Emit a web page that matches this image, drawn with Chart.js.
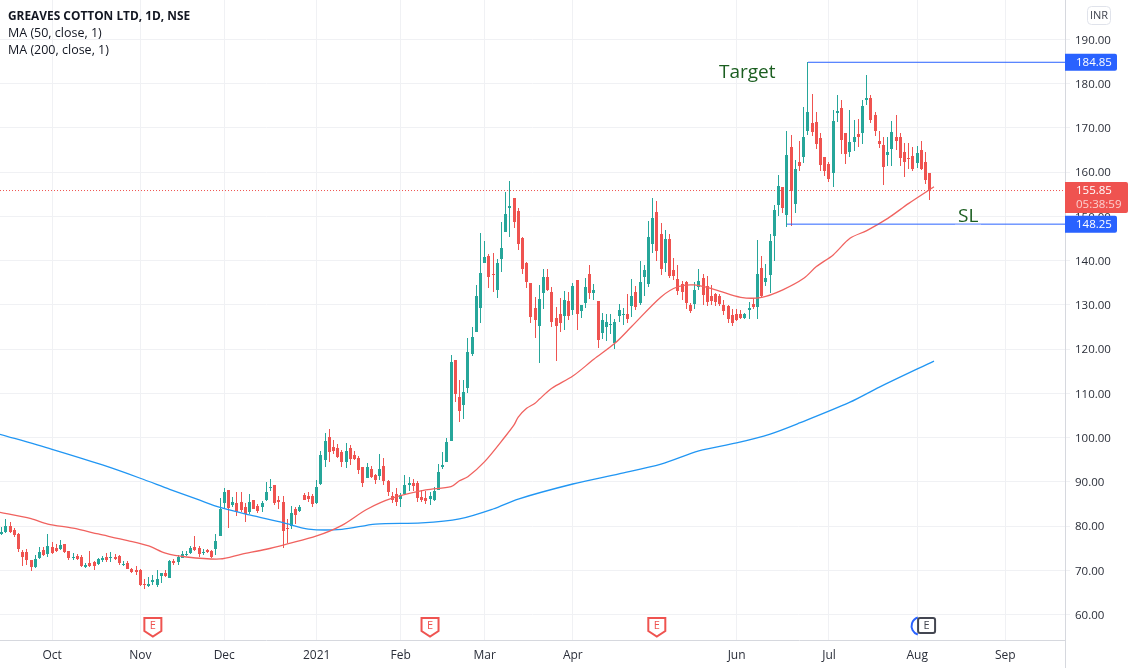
<!DOCTYPE html>
<html>
<head>
<meta charset="utf-8">
<title>GREAVES COTTON LTD</title>
<script src="https://cdn.jsdelivr.net/npm/chart.js@4"></script>
<style>
  html, body { margin: 0; padding: 0; background: #fff; }
  canvas { display: block; }
</style>
</head>
<body>
<canvas id="myChart" width="1133" height="668"></canvas>
<script>
// Daily candles, one entry per trading day
const opens = [
  78.2,78.65,80.0,79.1,78.2,74.1,74.1,72.3,70.7,72.8,
  74.6,73.7,75.3,75.0,74.8,75.9,74.35,72.8,73.2,73.0,
  70.7,71.65,71.85,71.4,72.3,73.0,72.8,73.0,73.2,71.2,
  71.65,70.3,70.05,70.05,66.9,66.44,67.35,66.67,68.7,69.4,
  68.25,72.1,71.85,72.8,73.45,73.9,75.3,75.0,73.9,74.6,
  74.35,74.8,77.75,85.2,88.15,84.75,85.2,85.45,84.3,83.15,
  85.9,84.5,84.3,85.9,88.6,89.3,85.9,85.45,79.55,80.0,
  83.85,83.4,87.0,86.8,86.8,85.2,89.5,94.94,100.14,97.88,
  97.65,96.75,94.5,97.65,96.07,95.4,93.35,90.9,92.9,91.55,
  91.3,93.6,90.2,86.8,87.25,86.1,87.25,89.3,89.75,89.75,
  86.55,86.35,86.1,85.9,88.15,93.35,94.5,99.23,117.55,109.2,
  107.35,111.2,118.9,123.9,129.3,139.5,141.05,137.0,133.4,140.4,
  146.5,151.9,154.17,151.25,145.15,139.5,134.95,129.3,125.25,132.7,
  136.3,132.9,127.05,127.95,127.5,130.9,128.85,135.65,128.6,130.45,
  137.0,132.7,130.9,123.65,125.0,125.45,121.4,127.5,127.7,127.95,
  129.75,132.9,130.45,136.3,134.75,143.75,151.0,146.05,139.5,144.9,
  137.9,135.85,134.75,135.2,130.0,130.2,134.05,136.1,134.3,132.0,
  132.45,132.0,130.0,129.75,127.7,127.95,127.95,127.05,128.85,130.2,
  129.55,138.35,135.2,136.75,145.6,152.6,156.65,150.3,165.7,152.8,
  162.3,163.45,169.3,171.15,171.35,167.75,163.45,161.85,159.8,173.4,
  174.5,168.85,164.55,166.85,168.65,168.85,176.35,176.8,172.95,167.05,
  166.15,163.9,165.25,167.95,167.95,164.55,163.2,163.65,162.1,165.0,162.3,159.8
];
const highs = [
  79.7,81.6,80.9,79.5,78.35,74.6,74.8,72.4,73.45,75.3,
  75.3,78.2,76.4,75.9,76.8,76.0,74.4,73.9,73.7,73.45,
  71.65,74.35,72.1,72.8,73.2,73.9,74.1,73.7,73.45,72.1,
  72.1,70.5,70.95,70.3,68.0,68.5,68.9,70.05,69.4,70.05,
  72.3,72.55,73.45,74.35,74.35,75.5,77.75,75.5,74.8,74.8,
  74.6,78.2,86.3,88.6,88.15,86.55,87.7,87.7,85.2,87.25,
  85.9,85.0,85.65,89.95,90.65,89.3,86.8,86.8,81.6,84.5,
  84.3,84.75,87.45,87.7,87.25,90.4,96.97,101.04,101.95,99.46,
  98.55,97.2,98.8,98.3,96.97,95.85,93.4,94.25,93.6,91.8,
  96.3,95.4,90.4,87.7,88.6,87.5,91.55,91.1,90.65,90.2,
  88.15,87.9,87.7,88.85,94.05,96.75,99.9,118.7,117.6,113.0,
  113.0,122.5,125.0,134.5,146.25,144.45,141.5,141.75,140.4,148.75,
  155.5,158.0,154.2,151.9,145.35,139.7,135.0,131.8,134.5,138.1,
  138.1,134.05,129.55,131.55,133.15,132.9,134.95,135.65,130.0,136.1,
  139.0,134.75,130.95,128.15,127.95,127.95,126.8,130.2,129.3,132.45,
  135.85,134.3,139.95,139.0,149.0,154.17,153.5,148.5,146.95,146.05,
  140.6,139.0,135.4,135.45,130.45,135.2,138.1,137.0,136.55,134.5,
  132.7,132.45,131.1,130.0,129.1,129.1,128.85,128.15,130.65,131.55,
  144.7,141.05,139.25,146.05,152.6,159.35,156.7,169.3,168.4,162.75,
  167.05,174.75,184.85,177.7,173.6,168.85,163.45,162.3,174.05,177.45,
  176.35,168.9,174.05,171.8,172.05,176.35,182.0,177.45,173.6,169.3,
  167.95,167.95,171.6,172.95,168.85,166.6,166.6,165.7,165.9,167.05,164.55,159.85
];
const lows = [
  78.0,78.35,78.35,77.6,74.2,71.0,71.2,69.8,70.5,72.55,
  73.2,73.0,73.7,74.1,74.6,73.9,72.3,72.3,72.3,70.7,
  70.5,70.7,70.05,71.2,71.85,71.85,71.85,72.3,71.2,70.95,
  70.2,69.4,68.9,66.44,65.8,66.2,66.67,66.2,67.1,68.5,
  68.25,71.2,71.2,72.75,73.2,73.7,74.35,73.0,73.45,73.9,
  72.8,73.45,77.7,83.85,79.55,84.3,82.25,83.15,80.9,82.7,
  83.8,82.95,83.15,85.65,87.9,84.75,83.85,75.0,76.2,79.3,
  80.45,83.15,85.85,85.45,84.3,85.0,89.3,93.35,94.5,96.3,
  95.4,93.35,93.1,93.8,94.94,91.8,88.85,90.85,90.9,89.5,
  90.4,89.3,86.8,85.2,84.55,84.3,87.0,87.9,87.9,85.45,
  85.45,85.0,84.75,85.65,88.1,92.9,94.45,99.2,108.05,103.5,
  104.2,110.1,118.45,123.85,125.9,139.45,133.8,132.9,131.55,137.45,
  146.45,145.35,147.4,142.4,137.0,133.8,125.9,122.5,116.85,129.05,
  133.15,125.0,117.3,123.9,124.35,126.6,127.7,124.35,127.05,129.3,
  131.35,131.1,120.25,122.3,121.85,123.4,120.05,126.15,125.45,125.9,
  127.25,128.85,130.0,132.0,134.05,141.75,139.9,136.75,137.45,136.1,
  135.65,132.25,131.1,129.1,128.15,129.1,133.4,130.0,129.75,130.0,
  129.75,129.75,127.7,125.9,125.25,126.35,126.8,126.8,126.8,129.1,
  126.8,131.8,134.3,132.7,139.9,150.1,150.8,147.6,147.85,150.8,
  160.3,162.1,168.4,168.2,165.25,160.3,159.15,157.8,156.65,171.35,
  164.1,161.85,163.45,164.8,165.7,166.4,175.2,171.15,168.2,165.45,
  157.1,161.4,161.4,165.0,161.4,158.9,160.75,160.3,160.95,160.5,157.35,153.7
];
const closes = [
  78.65,80.0,78.65,78.0,74.8,73.0,72.3,70.7,72.55,74.1,
  73.45,75.5,73.9,74.35,75.7,74.1,72.8,73.0,72.55,70.95,
  71.2,70.95,70.95,72.55,72.8,72.3,73.0,72.55,71.65,71.4,
  70.3,69.6,69.6,66.67,66.67,66.9,67.8,68.0,69.4,68.7,
  72.1,71.65,73.0,73.7,73.7,75.0,74.6,73.7,74.1,74.1,
  73.0,76.6,83.85,87.7,84.05,85.45,83.15,83.6,82.7,85.45,
  83.85,83.4,85.2,87.7,88.8,85.2,85.45,78.9,79.3,83.0,
  82.5,84.3,85.9,86.1,85.0,88.8,96.07,99.23,96.75,96.97,
  95.6,94.5,96.97,95.15,95.15,92.7,89.75,93.35,91.1,90.4,
  92.9,90.2,87.7,85.9,85.45,87.0,89.3,89.75,89.05,86.35,
  85.9,85.65,86.8,87.9,92.2,93.8,99.0,117.1,109.85,106.0,
  110.3,119.35,122.75,132.0,137.2,140.85,136.3,136.75,139.5,142.85,
  150.55,152.35,148.75,143.75,138.1,135.2,127.25,126.6,131.35,136.3,
  133.4,126.15,125.25,125.9,131.1,127.5,134.3,127.95,129.98,134.05,
  132.7,133.4,122.05,126.6,126.15,125.7,126.15,128.85,127.95,126.8,
  132.0,129.55,135.2,137.9,145.35,149.65,142.2,138.1,144.9,136.55,
  136.55,133.15,132.9,130.45,128.6,133.4,135.4,132.25,130.65,130.9,
  130.65,130.2,128.6,126.8,125.9,126.6,127.05,127.95,129.3,129.55,
  137.0,132.0,136.1,144.45,151.45,156.9,151.9,163.9,155.75,160.75,
  161.4,167.95,173.6,169.1,166.4,161.65,160.3,158.45,171.6,173.85,
  167.3,164.1,166.85,167.95,167.95,175.0,176.8,171.8,169.3,166.4,
  161.2,164.55,169.1,167.05,163.2,162.3,162.95,160.75,164.35,160.75,158.25,155.85
];

const ma50Bars = [-1,7,11,17,23,30,35,39,44,52,57,63,68,75,81,87,93,101,107,109,111,115,120,122,123,125,127,128,131,136,141,146,150,157,161,165,170,176,181,186,191,194,198,202,206,211,216,222];
const ma50Values = [83.2,81.66,80.45,79.5,78.2,76.7,75.5,73.85,73.0,72.55,73.6,74.75,75.95,77.75,80.15,83.8,86.3,88.15,88.9,90.25,91.15,94.55,100.35,102.85,104.6,106.6,107.75,108.65,111.15,113.9,117.7,121.3,125.1,131.8,134.1,134.5,133.4,131.7,131.7,133.4,136.0,138.65,141.3,145.05,146.8,149.55,152.95,156.7];
const ma200Bars = [-1,12,24,33,40,47,52,59,67,73,81,89,100,109,117,123,136,147,157,166,175,183,190,202,209,222];
const ma200Values = [100.9,97.35,93.8,90.8,88.3,85.9,84.2,82.5,80.75,79.3,79.25,80.45,80.7,81.6,83.85,86.1,89.5,91.8,94.0,97.0,98.8,100.8,103.3,108.0,111.4,117.3];

// Axis ticks
const monthLabels = ["Oct","Nov","Dec","2021","Feb","Mar","Apr","Jun","Jul","Aug","Sep"];
const monthBars = [12,33,53,75,95,115,136,175,197,218,239];
const priceTicks = [60,70,80,90,100,110,120,130,140,150,160,170,180,190];

// Drawn levels and earnings flags
const lastPrice = 155.85;
const countdown = "05:38:59";
const targetPrice = 184.85;
const targetBar = 192;
const stopPrice = 148.25;
const stopBar = 187;
const earningsBars = [36,102,156];
const nextEarningsBar = 220;

const upColor = "#26a69a";
const downColor = "#ef5350";
const lineBlue = "#2962ff";
const textFont = '"Open Sans", "Noto Sans", sans-serif';

// Fixed scale ends, so that the plot sits where the reference has it
const barMin = -0.4;
const barMax = 253.2;

const candleColors = opens.map((o, i) => (closes[i] >= o ? upColor : downColor));

function toPoints(xs, ys) {
  return xs.map((x, i) => ({ x: x, y: ys[i] }));
}

// Keeps the 1px wicks and 3px bodies on whole pixels
const snapBars = {
  id: "snapBars",
  afterDatasetsUpdate(chart) {
    chart.data.datasets.forEach((ds, d) => {
      if (ds.type !== "bar") return;
      chart.getDatasetMeta(d).data.forEach((bar) => {
        bar.x = Math.floor(bar.x) + 0.5;
        bar.y = Math.round(bar.y);
        bar.base = Math.round(bar.base);
      });
    });
  },
};

function priceTag(ctx, y, width, height, color) {
  ctx.fillStyle = color;
  ctx.beginPath();
  ctx.roundRect(1065, y, width, height, [0, 2, 2, 0]);
  ctx.fill();
}

function drawFlag(ctx, x, color, pointed) {
  ctx.strokeStyle = color;
  ctx.lineWidth = 2;
  ctx.fillStyle = "#fff";
  ctx.beginPath();
  if (pointed) {
    ctx.moveTo(x - 8.5, 618);
    ctx.lineTo(x + 8.5, 618);
    ctx.lineTo(x + 8.5, 631);
    ctx.lineTo(x, 636.5);
    ctx.lineTo(x - 8.5, 631);
    ctx.closePath();
  } else {
    ctx.roundRect(x - 8.5, 618, 17, 15, 2);
  }
  ctx.fill();
  ctx.stroke();
  ctx.fillStyle = color;
  ctx.font = "11px " + textFont;
  ctx.textAlign = "center";
  ctx.textBaseline = "middle";
  ctx.fillText("E", x, 626);
}

// Title, tags, flags and the other TradingView furniture
const overlay = {
  id: "overlay",
  afterDraw(chart) {
    const ctx = chart.ctx;
    const xs = chart.scales.x;
    const ys = chart.scales.y;
    ctx.save();

    // Axis border runs down to the bottom of the window
    ctx.strokeStyle = "#d6d8de";
    ctx.lineWidth = 1;
    ctx.beginPath();
    ctx.moveTo(1065.5, 0);
    ctx.lineTo(1065.5, 668);
    ctx.stroke();

    // Legend
    ctx.textAlign = "left";
    ctx.textBaseline = "middle";
    ctx.fillStyle = "#131722";
    ctx.font = "bold 11.9px " + textFont;
    ctx.fillText("GREAVES COTTON LTD, 1D, NSE", 8, 16.5);
    ctx.font = "12.5px " + textFont;
    ctx.fillText("MA (50, close, 1)", 8, 33.5);
    ctx.fillText("MA (200, close, 1)", 8, 50.5);

    // Hand written labels
    const stopPx = ys.getPixelForValue(stopPrice);
    ctx.strokeStyle = "#b4c6ff";
    ctx.lineWidth = 1;
    ctx.beginPath();
    ctx.moveTo(955, stopPx);
    ctx.lineTo(981, stopPx);
    ctx.stroke();
    ctx.fillStyle = "#1b5e20";
    ctx.font = "19px " + textFont;
    ctx.fillText("Target", 719, 73);
    ctx.fillText("SL", 958, 217);

    // Earnings flags
    earningsBars.forEach((b) => drawFlag(ctx, xs.getPixelForValue(b), downColor, true));
    const nextX = xs.getPixelForValue(nextEarningsBar) + 1;
    ctx.strokeStyle = "#2962ff";
    ctx.lineWidth = 2;
    ctx.beginPath();
    ctx.arc(nextX - 6, 626, 9, Math.PI * 0.6, Math.PI * 1.4);
    ctx.stroke();
    drawFlag(ctx, nextX, "#434651", false);

    // Currency button
    ctx.strokeStyle = "#e0e3eb";
    ctx.lineWidth = 1;
    ctx.beginPath();
    ctx.roundRect(1087.5, 6.5, 23, 18, 4);
    ctx.stroke();
    ctx.fillStyle = "#434651";
    ctx.font = "11px " + textFont;
    ctx.textAlign = "center";
    ctx.fillText("INR", 1099, 15.5);

    // Price tags
    ctx.textAlign = "left";
    ctx.font = "11.5px " + textFont;
    const targetY = ys.getPixelForValue(targetPrice);
    priceTag(ctx, targetY - 8.5, 52, 17, lineBlue);
    ctx.fillStyle = "#fff";
    ctx.fillText(targetPrice.toFixed(2), 1076, targetY + 0.5);

    const lastY = ys.getPixelForValue(lastPrice);
    priceTag(ctx, lastY - 8.5, 63, 31, downColor);
    ctx.fillStyle = "#fff";
    ctx.fillText(lastPrice.toFixed(2), 1076, lastY + 0.5);
    ctx.fillStyle = "#fbd0cf";
    ctx.fillText(countdown, 1076, lastY + 14.5);

    priceTag(ctx, stopPx - 8.5, 52, 17, lineBlue);
    ctx.fillStyle = "#fff";
    ctx.fillText(stopPrice.toFixed(2), 1076, stopPx + 0.5);

    ctx.restore();
  },
};

const ctx = document.getElementById("myChart").getContext("2d");

new Chart(ctx, {
  type: "bar",
  data: {
    datasets: [
      // Moving averages
      {
        type: "line",
        data: toPoints(ma50Bars, ma50Values),
        borderColor: "#f0625f",
        borderWidth: 1.3,
        pointRadius: 0,
        tension: 0.3,
        order: 1,
      },
      {
        type: "line",
        data: toPoints(ma200Bars, ma200Values),
        borderColor: "#2196f3",
        borderWidth: 1.3,
        pointRadius: 0,
        tension: 0.3,
        order: 1,
      },
      // Last price, target and stop lines
      {
        type: "line",
        data: toPoints([barMin, barMax], [lastPrice, lastPrice]),
        borderColor: downColor,
        borderWidth: 1,
        borderDash: [1, 2],
        pointRadius: 0,
        order: 4,
      },
      {
        type: "line",
        data: toPoints([targetBar, barMax], [targetPrice, targetPrice]),
        borderColor: lineBlue,
        borderWidth: 1,
        pointRadius: 0,
        order: 0,
      },
      {
        type: "line",
        data: toPoints([stopBar, barMax], [stopPrice, stopPrice]),
        borderColor: lineBlue,
        borderWidth: 1,
        pointRadius: 0,
        order: 0,
      },
      // Candle bodies
      {
        type: "bar",
        data: opens.map((o, i) => ({ x: i, y: [o, closes[i]] })),
        backgroundColor: candleColors,
        grouped: false,
        barPercentage: 1,
        maxBarThickness: 3,
        minBarLength: 1,
        order: 2,
      },
      // Candle wicks
      {
        type: "bar",
        data: lows.map((l, i) => ({ x: i, y: [l, highs[i]] })),
        backgroundColor: candleColors,
        grouped: false,
        barPercentage: 1,
        maxBarThickness: 1,
        order: 3,
      },
    ],
  },
  options: {
    responsive: false,
    animation: false,
    events: [],
    layout: { padding: 0 },
    plugins: {
      legend: { display: false },
      tooltip: { enabled: false },
    },
    scales: {
      x: {
        type: "linear",
        offset: false,
        min: barMin,
        max: barMax,
        afterFit(scale) {
          scale.height = 28;
          scale.paddingLeft = 0;
          scale.paddingRight = 0;
        },
        afterBuildTicks(scale) {
          scale.ticks = monthBars.map((b) => ({ value: b }));
        },
        grid: { color: "#f0f1f4", drawTicks: false, offset: false },
        border: { color: "#d6d8de" },
        ticks: {
          autoSkip: false,
          maxRotation: 0,
          padding: 8,
          color: "#2a2e39",
          font: { family: textFont, size: 12 },
          callback(value) {
            return monthLabels[monthBars.indexOf(value)];
          },
        },
      },
      y: {
        type: "linear",
        position: "right",
        min: 54.23,
        max: 198.93,
        afterFit(scale) {
          scale.width = 68;
          scale.paddingTop = 0;
          scale.paddingBottom = 0;
        },
        afterBuildTicks(scale) {
          scale.ticks = priceTicks.map((p) => ({ value: p }));
        },
        grid: { color: "#f0f1f4", tickLength: 5 },
        border: { color: "#d6d8de" },
        ticks: {
          padding: 5,
          labelOffset: 1,
          color: "#2a2e39",
          font: { family: textFont, size: 11.5 },
          callback(value) {
            return value.toFixed(2);
          },
        },
      },
    },
  },
  plugins: [snapBars, overlay],
});
</script>
</body>
</html>
